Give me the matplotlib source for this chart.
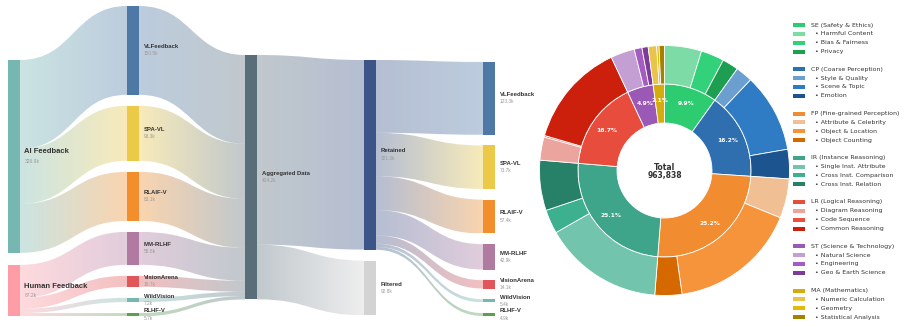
import numpy as np
import matplotlib
matplotlib.use("Agg")
import matplotlib.pyplot as plt
from matplotlib.path import Path
from matplotlib.patches import PathPatch, Rectangle
from matplotlib.colors import to_rgb

# ---------------- sankey data (thousands of samples) ----------------
feedback_names = ["AI Feedback", "Human Feedback"]
feedback_values = [326.9, 87.2]
feedback_colors = ["#76b7b2", "#ff9da7"]

dataset_names = ["VLFeedback", "SPA-VL", "RLAIF-V", "MM-RLHF",
                 "VisionArena", "WildVision", "RLHF-V"]
dataset_raw = [150.5, 93.3, 83.1, 55.8, 18.7, 7.2, 5.7]
dataset_source = [0, 0, 0, 1, 1, 1, 1]
dataset_kept = [123.3, 73.7, 57.4, 42.9, 14.1, 5.4, 4.9]
dataset_colors = ["#4e79a7", "#edc948", "#f28e2b", "#b07aa1",
                  "#e15759", "#76b7b2", "#59a14f"]

aggregated_name = "Aggregated Data"
aggregated_value = 414.2
aggregated_color = "#5a6e7a"

split_names = ["Retained", "Filtered"]
split_values = [321.3, 92.8]
split_colors = ["#3c5488", "#d3d3d3"]

# ---------------- sunburst data (% of all samples) ----------------
total_samples = 963838
main_names = ["SE (Safety & Ethics)", "CP (Coarse Perception)",
              "FP (Fine-grained Perception)", "IR (Instance Reasoning)",
              "LR (Logical Reasoning)", "ST (Science & Technology)",
              "MA (Mathematics)"]
main_share = [9.9, 16.2, 25.2, 25.1, 16.7, 4.9, 2.1]
main_colors = ["#2ecc71", "#2f6fb0", "#f28c30", "#3ea58a",
               "#e74c3c", "#9b59b6", "#d4ac0d"]

sub_names = [
    ["Harmful Content", "Bias & Fairness", "Privacy"],
    ["Style & Quality", "Scene & Topic", "Emotion"],
    ["Attribute & Celebrity", "Object & Location", "Object Counting"],
    ["Single Inst. Attribute", "Cross Inst. Comparison", "Cross Inst. Relation"],
    ["Diagram Reasoning", "Code Sequence", "Common Reasoning"],
    ["Natural Science", "Engineering", "Geo & Earth Science"],
    ["Numeric Calculation", "Geometry", "Statistical Analysis"],
]
sub_share = [
    [4.8, 3.0, 2.1],
    [2.2, 10.2, 3.8],
    [5.1, 16.6, 3.5],
    [15.5, 3.1, 6.5],
    [3.0, 0.2, 13.5],
    [3.1, 1.0, 0.8],
    [1.1, 0.3, 0.7],
]
sub_colors = [
    ["#7ddba5", "#33d17a", "#1e9e50"],
    ["#6a9fd0", "#2f7cc4", "#1c5490"],
    ["#f0c094", "#f5943a", "#d66800"],
    ["#72c4ac", "#3db08f", "#278068"],
    ["#eba59e", "#e85040", "#cc1f0c"],
    ["#c39fd3", "#a45cc0", "#7d3c98"],
    ["#e9c44a", "#e6b80a", "#a38200"],
]

# ---------------- layout (pixels) ----------------
W, H = 907, 327
px_per_k = 0.59
col_x = [8, 127, 245, 364, 483]
col_top = [60, 6, 55, 60, 62]
col_gap = [12, 11, 0, 11, 10.7]
node_w = 12
link_alpha = 0.38
sans = "Liberation Sans"

fig = plt.figure(figsize=(W / 100, H / 100), dpi=100)
ax = fig.add_axes([0, 0, 1, 1])
ax.patch.set_visible(False)

nodes = []


def add_node(name, value, color, col):
    nodes.append({"name": name, "value": value, "color": color, "col": col})
    return len(nodes) - 1


fb_ids = [add_node(n, v, c, 0) for n, v, c in
          zip(feedback_names, feedback_values, feedback_colors)]
raw_ids = [add_node(n, v, c, 1) for n, v, c in
           zip(dataset_names, dataset_raw, dataset_colors)]
agg_id = add_node(aggregated_name, aggregated_value, aggregated_color, 2)
split_ids = [add_node(n, v, c, 3) for n, v, c in
             zip(split_names, split_values, split_colors)]
kept_ids = [add_node(n, v, c, 4) for n, v, c in
            zip(dataset_names, dataset_kept, dataset_colors)]

links = []
for i, src in enumerate(dataset_source):
    links.append((fb_ids[src], raw_ids[i], dataset_raw[i]))
for i in range(len(dataset_names)):
    links.append((raw_ids[i], agg_id, dataset_raw[i]))
for j in range(len(split_names)):
    links.append((agg_id, split_ids[j], split_values[j]))
for i in range(len(dataset_names)):
    links.append((split_ids[0], kept_ids[i], dataset_kept[i]))

# stack the nodes of every column
for col in range(len(col_x)):
    y = col_top[col]
    for nd in nodes:
        if nd["col"] == col:
            nd["y0"] = y
            nd["y1"] = y + nd["value"] * px_per_k
            y = nd["y1"] + col_gap[col]

# where each link leaves / enters its nodes
out_off = {i: nd["y0"] for i, nd in enumerate(nodes)}
in_off = dict(out_off)
src_span, tgt_span = {}, {}
for k in sorted(range(len(links)), key=lambda k: nodes[links[k][1]]["y0"]):
    s, t, v = links[k]
    src_span[k] = (out_off[s], out_off[s] + v * px_per_k)
    out_off[s] += v * px_per_k
for k in sorted(range(len(links)), key=lambda k: nodes[links[k][0]]["y0"]):
    s, t, v = links[k]
    tgt_span[k] = (in_off[t], in_off[t] + v * px_per_k)
    in_off[t] += v * px_per_k

grad = np.linspace(0, 1, 256)
for k, (s, t, v) in enumerate(links):
    x0 = col_x[nodes[s]["col"]] + node_w
    x1 = col_x[nodes[t]["col"]]
    s0, s1 = src_span[k]
    t0, t1 = tgt_span[k]
    xm = (x0 + x1) / 2
    verts = [(x0, s0), (xm, s0), (xm, t0), (x1, t0), (x1, t1),
             (xm, t1), (xm, s1), (x0, s1), (x0, s0)]
    codes = [Path.MOVETO, Path.CURVE4, Path.CURVE4, Path.CURVE4, Path.LINETO,
             Path.CURVE4, Path.CURVE4, Path.CURVE4, Path.CLOSEPOLY]
    patch = PathPatch(Path(verts, codes), facecolor="none", edgecolor="none",
                      transform=ax.transData)
    ax.add_patch(patch)
    c0 = np.array(to_rgb(nodes[s]["color"]))
    c1 = np.array(to_rgb(nodes[t]["color"]))
    img = np.zeros((1, 256, 4))
    img[0, :, :3] = c0 * (1 - grad)[:, None] + c1 * grad[:, None]
    img[0, :, 3] = link_alpha
    im = ax.imshow(img, extent=(x0, x1, max(s1, t1), min(s0, t0)),
                   aspect="auto", interpolation="bilinear", zorder=1)
    im.set_clip_path(patch)

for nd in nodes:
    x = col_x[nd["col"]]
    ax.bar(x, nd["y1"] - nd["y0"], bottom=nd["y0"], width=node_w,
           align="edge", color=nd["color"], zorder=3)
    cy = (nd["y0"] + nd["y1"]) / 2
    lx = x + node_w + 4.5
    big = nd["col"] == 0
    ax.text(lx, cy - (4.5 if big else 3.8), nd["name"],
            fontsize=5.5 if big else 4.3, fontweight="bold", color="#333333",
            va="center", family=sans, zorder=4)
    ax.text(lx, cy + (4.6 if big else 3.6), f"{nd['value']:.1f}k",
            fontsize=3.6 if big else 3.4, color="#999999", va="center",
            family=sans, zorder=4)

# legend of the sunburst
leg_x, leg_top, leg_step = 792.5, 25, 8.85
row = 0
for g in range(len(main_names)):
    entries = [(main_names[g], main_colors[g])]
    entries += [("  \u2022 " + n, c) for n, c in zip(sub_names[g], sub_colors[g])]
    for label, color in entries:
        y = leg_top + row * leg_step
        ax.add_patch(Rectangle((leg_x, y - 2), 12.5, 4, facecolor=color,
                               edgecolor="none"))
        ax.text(leg_x + 18.5, y, label, fontsize=4.5, va="center",
                color="#333333")
        row += 1
    row += 1

ax.set_xlim(0, W)
ax.set_ylim(H, 0)
ax.axis("off")

# ---------------- sunburst ----------------
cx, cy, r_out = 664.5, 170.5, 125
side = r_out * 2.5
pax = fig.add_axes([(cx - side / 2) / W, 1 - (cy + side / 2) / H,
                    side / W, side / H])
r_in = 86.5 / r_out
_, _, autotexts = pax.pie(
    main_share, radius=r_in, colors=main_colors, startangle=90,
    counterclock=False, autopct="%1.1f%%", pctdistance=0.81,
    wedgeprops=dict(width=39 / r_out, edgecolor="white", linewidth=0.6))
for t in autotexts:
    t.set_color("white")
    t.set_fontsize(4.3)
    t.set_fontweight("bold")

flat_share = [v for grp in sub_share for v in grp]
flat_colors = [c for grp in sub_colors for c in grp]
pax.pie(flat_share, radius=1.0, colors=flat_colors, startangle=90,
        counterclock=False,
        wedgeprops=dict(width=1 - r_in, edgecolor="white", linewidth=0.6))

pax.text(0, 0.028, "Total", ha="center", va="center", fontsize=5.5,
         fontweight="bold", color="#333333")
pax.text(0, -0.04, f"{total_samples:,}", ha="center", va="center",
         fontsize=5.5, fontweight="bold", color="#333333")
pax.set_xlim(-1.25, 1.25)
pax.set_ylim(-1.25, 1.25)
pax.set_aspect("equal")

fig.savefig("out.png", dpi=100)
